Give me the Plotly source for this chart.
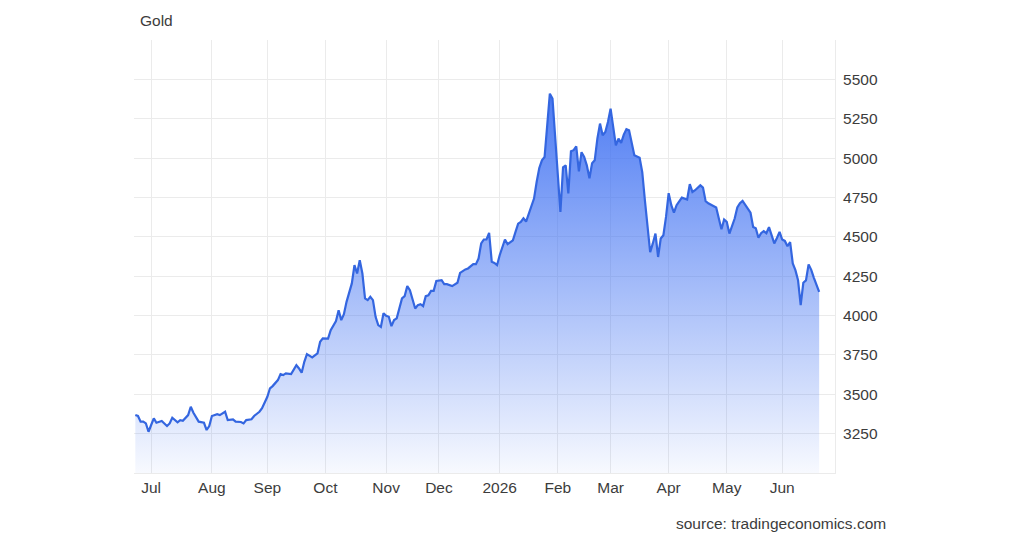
import plotly.graph_objects as go

# ---------------- data ----------------
dates = [
    "2025-06-23", "2025-06-24", "2025-06-25", "2025-06-26", "2025-06-27", "2025-06-30",
    "2025-07-01", "2025-07-02", "2025-07-03", "2025-07-07", "2025-07-09", "2025-07-10",
    "2025-07-11", "2025-07-15", "2025-07-16", "2025-07-17", "2025-07-21", "2025-07-22",
    "2025-07-23", "2025-07-24", "2025-07-25", "2025-07-29", "2025-07-30", "2025-07-31",
    "2025-08-01", "2025-08-05", "2025-08-06", "2025-08-08", "2025-08-11", "2025-08-13",
    "2025-08-14", "2025-08-18", "2025-08-19", "2025-08-20", "2025-08-22", "2025-08-25",
    "2025-08-26", "2025-08-27", "2025-08-28", "2025-08-29",
    "2025-09-01", "2025-09-02", "2025-09-03", "2025-09-05", "2025-09-08", "2025-09-09",
    "2025-09-10", "2025-09-12", "2025-09-15", "2025-09-16", "2025-09-17", "2025-09-18",
    "2025-09-19", "2025-09-22", "2025-09-24", "2025-09-26", "2025-09-29", "2025-09-30",
    "2025-10-02", "2025-10-03", "2025-10-07", "2025-10-08", "2025-10-09", "2025-10-10",
    "2025-10-13", "2025-10-14", "2025-10-15", "2025-10-16", "2025-10-17", "2025-10-20",
    "2025-10-21", "2025-10-22", "2025-10-23", "2025-10-24", "2025-10-27", "2025-10-28",
    "2025-10-29", "2025-10-30", "2025-10-31",
    "2025-11-03", "2025-11-04", "2025-11-05", "2025-11-06", "2025-11-07", "2025-11-11",
    "2025-11-12", "2025-11-13", "2025-11-14", "2025-11-17", "2025-11-18", "2025-11-19",
    "2025-11-20", "2025-11-21", "2025-11-24", "2025-11-25", "2025-11-26", "2025-11-27",
    "2025-11-28",
    "2025-12-02", "2025-12-03", "2025-12-04", "2025-12-08", "2025-12-10", "2025-12-11",
    "2025-12-15", "2025-12-16", "2025-12-18", "2025-12-19", "2025-12-22", "2025-12-23",
    "2025-12-24", "2025-12-25", "2025-12-26", "2025-12-29", "2025-12-30", "2025-12-31",
    "2026-01-01", "2026-01-05", "2026-01-06", "2026-01-08", "2026-01-09", "2026-01-12",
    "2026-01-13", "2026-01-14", "2026-01-15", "2026-01-16", "2026-01-20", "2026-01-21",
    "2026-01-22", "2026-01-23", "2026-01-26", "2026-01-27", "2026-01-28", "2026-01-29",
    "2026-01-30",
    "2026-02-02", "2026-02-03", "2026-02-04", "2026-02-05", "2026-02-06", "2026-02-09",
    "2026-02-10", "2026-02-11", "2026-02-12", "2026-02-13", "2026-02-16", "2026-02-17",
    "2026-02-18", "2026-02-19", "2026-02-20", "2026-02-23", "2026-02-24", "2026-02-25",
    "2026-02-26", "2026-02-27",
    "2026-03-02", "2026-03-03", "2026-03-04", "2026-03-05", "2026-03-06", "2026-03-09",
    "2026-03-10", "2026-03-11", "2026-03-12", "2026-03-13", "2026-03-17", "2026-03-18",
    "2026-03-19", "2026-03-20", "2026-03-23", "2026-03-24", "2026-03-25", "2026-03-26",
    "2026-03-27", "2026-03-30", "2026-03-31",
    "2026-04-01", "2026-04-02", "2026-04-03", "2026-04-06", "2026-04-08", "2026-04-09",
    "2026-04-10", "2026-04-13", "2026-04-14", "2026-04-15", "2026-04-17", "2026-04-20",
    "2026-04-21", "2026-04-22", "2026-04-24", "2026-04-27", "2026-04-28", "2026-04-29",
    "2026-04-30",
    "2026-05-01", "2026-05-04", "2026-05-06", "2026-05-07", "2026-05-08", "2026-05-11",
    "2026-05-12", "2026-05-14", "2026-05-15", "2026-05-18", "2026-05-19", "2026-05-20",
    "2026-05-21", "2026-05-22", "2026-05-25", "2026-05-26", "2026-05-27", "2026-05-28",
    "2026-05-29",
    "2026-06-01", "2026-06-02", "2026-06-03", "2026-06-04", "2026-06-05", "2026-06-08",
    "2026-06-09", "2026-06-10", "2026-06-11", "2026-06-12", "2026-06-15", "2026-06-16",
    "2026-06-17", "2026-06-18", "2026-06-19",
]

gold_price = [
    3368, 3362, 3326, 3326, 3315, 3262,
    3305, 3347, 3319, 3330, 3298, 3315,
    3351, 3322, 3336, 3332, 3368, 3421,
    3383, 3357, 3326, 3319, 3273, 3298,
    3362, 3374, 3368, 3389, 3336, 3341,
    3326, 3324, 3315, 3336, 3341, 3362,
    3374, 3389, 3411, 3452,
    3484, 3538, 3552, 3590, 3628, 3622,
    3633, 3628, 3654, 3685, 3664, 3637,
    3706, 3755, 3734, 3760, 3833, 3855,
    3853, 3907, 3965, 4034, 3971, 4009,
    4087, 4140, 4204, 4320, 4267, 4352,
    4267, 4109, 4098, 4119, 4098, 3992,
    3939, 3928, 4015,
    3998, 3992, 3933, 3971, 3982, 4109,
    4123, 4187, 4161, 4098, 4045, 4066,
    4072, 4060, 4123, 4129, 4157, 4157,
    4220,
    4225, 4199, 4199, 4187, 4208, 4271,
    4293, 4299, 4326, 4326, 4362, 4458,
    4483, 4483, 4525, 4341, 4334, 4320,
    4383, 4483, 4453, 4478, 4531, 4584,
    4595, 4618, 4597, 4645, 4743, 4848,
    4937, 4986, 5007, 5208, 5409, 5378,
    5145,
    4870, 4658, 4942, 4954, 4775, 5043,
    5050, 5075, 4916, 5037, 5008, 4954,
    4872, 4967, 4986, 5124, 5219, 5145,
    5166, 5229,
    5314, 5187, 5081, 5124, 5097, 5149,
    5183, 5176, 5102, 5018, 5002, 4910,
    4732, 4555, 4402, 4458, 4521, 4372,
    4489, 4510, 4626,
    4777, 4701, 4653, 4701, 4749, 4743,
    4737, 4834, 4785, 4796, 4827, 4813,
    4726, 4713, 4694, 4686, 4616, 4548,
    4610,
    4595, 4521, 4616, 4686, 4713, 4728,
    4701, 4653, 4563, 4555, 4494, 4523,
    4536, 4523, 4561, 4513, 4458, 4493,
    4531,
    4483, 4474, 4440, 4466, 4331, 4288,
    4225, 4066, 4208, 4223, 4325, 4290,
    4240, 4195, 4150,
]

month_tick_dates = ["2025-07-01", "2025-08-01", "2025-09-01", "2025-10-01", "2025-11-03",
                    "2025-12-01", "2026-01-01", "2026-02-02", "2026-03-02", "2026-04-01",
                    "2026-05-01", "2026-06-01"]
month_tick_labels = ["Jul", "Aug", "Sep", "Oct", "Nov", "Dec", "2026", "Feb", "Mar", "Apr",
                     "May", "Jun"]

price_tick_values = [3000, 3250, 3500, 3750, 4000, 4250, 4500, 4750, 5000, 5250, 5500, 5750]
price_tick_labels = ["", "3250", "3500", "3750", "4000", "4250", "4500", "4750", "5000",
                     "5250", "5500", ""]

# ---------------- figure ----------------
FONT = "Liberation Sans, Arial, Helvetica, sans-serif"
TEXT = "#3c3c3c"
GRID = "#ebebeb"

fig = go.Figure()
fig.add_trace(go.Scatter(
    x=dates, y=gold_price, mode="lines",
    line=dict(color="#3466e0", width=2.2),
    fill="tozeroy",
    fillgradient=dict(
        type="vertical",
        colorscale=[[0, "rgba(62,112,242,0.04)"], [1, "rgba(62,112,242,0.92)"]],
        start=3000, stop=5420,
    ),
    hoverinfo="skip",
    showlegend=False,
))

fig.update_layout(
    width=1024, height=536,
    margin=dict(l=134, r=189, t=40, b=63),
    paper_bgcolor="white", plot_bgcolor="white",
    font=dict(family=FONT, size=15.5, color=TEXT),
    title=dict(text="Gold", xref="container", yref="container",
               x=140 / 1024, y=1 - 21 / 536, xanchor="left", yanchor="middle",
               font=dict(family=FONT, size=15.5, color=TEXT)),
    annotations=[dict(text="source: tradingeconomics.com", xref="paper", yref="paper",
                      x=(888 - 134) / 701, y=(473 - 523) / 433,
                      xanchor="right", yanchor="middle", showarrow=False,
                      font=dict(family=FONT, size=15.5, color=TEXT))],
)

fig.update_xaxes(
    type="date",
    rangebreaks=[dict(bounds=["sat", "mon"])],
    range=["2025-06-20 12:00", "2026-06-26 23:59"],
    tickmode="array", tickvals=month_tick_dates, ticktext=month_tick_labels,
    showgrid=True, gridcolor=GRID, gridwidth=1,
    showline=True, linecolor=GRID, linewidth=1,
    ticks="", zeroline=False,
    tickfont=dict(family=FONT, size=15.5, color=TEXT),
)
fig.update_yaxes(
    side="right",
    range=[3000, 5750],
    tickmode="array", tickvals=price_tick_values, ticktext=price_tick_labels,
    showgrid=True, gridcolor=GRID, gridwidth=1,
    showline=True, linecolor=GRID, linewidth=1,
    ticks="outside", ticklen=4, tickcolor="rgba(0,0,0,0)",
    zeroline=False,
    tickfont=dict(family=FONT, size=15.5, color=TEXT),
)

fig.write_html("out.html", config={"displayModeBar": False},
               post_script="document.body.style.margin='0';")
